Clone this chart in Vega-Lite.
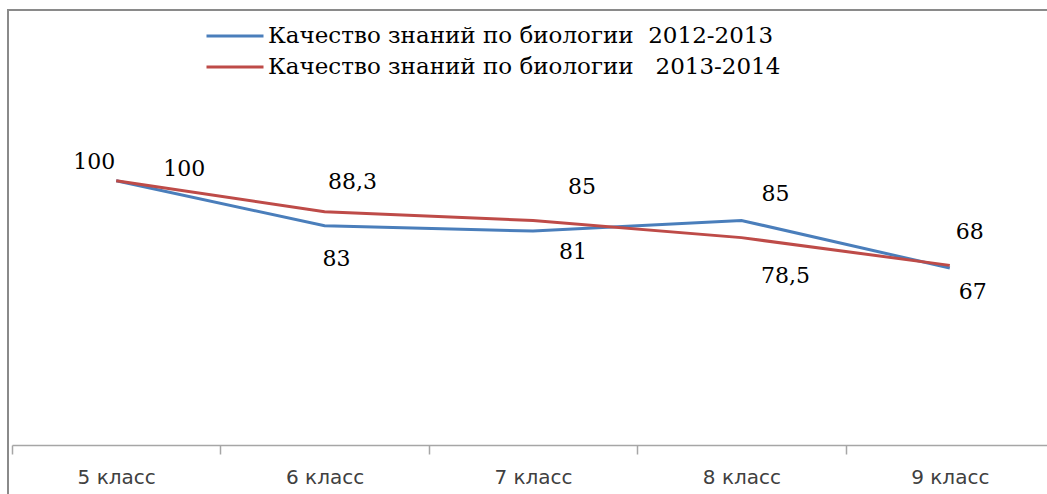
{
  "$schema": "https://vega.github.io/schema/vega-lite/v6.json",
  "autosize": {"type": "none"},
  "padding": {"left": 8, "top": 10, "right": -6, "bottom": -6},
  "width": 1045,
  "height": 490,
  "background": "white",
  "config": {
    "locale": {"number": {"decimal": ",", "thousands": " ", "grouping": [3], "currency": ["", ""]}},
    "view": {"stroke": "#8a8a8a", "strokeWidth": 2}
  },
  "data": {
    "values": [
      {"cls": "5 класс", "series": "Качество знаний по биологии\u00a0\u00a02012-2013", "year": "2012-2013", "value": 100},
      {"cls": "6 класс", "series": "Качество знаний по биологии\u00a0\u00a02012-2013", "year": "2012-2013", "value": 83},
      {"cls": "7 класс", "series": "Качество знаний по биологии\u00a0\u00a02012-2013", "year": "2012-2013", "value": 81},
      {"cls": "8 класс", "series": "Качество знаний по биологии\u00a0\u00a02012-2013", "year": "2012-2013", "value": 85},
      {"cls": "9 класс", "series": "Качество знаний по биологии\u00a0\u00a02012-2013", "year": "2012-2013", "value": 67},
      {"cls": "5 класс", "series": "Качество знаний по биологии\u00a0\u00a0\u00a02013-2014", "year": "2013-2014", "value": 100},
      {"cls": "6 класс", "series": "Качество знаний по биологии\u00a0\u00a0\u00a02013-2014", "year": "2013-2014", "value": 88.3},
      {"cls": "7 класс", "series": "Качество знаний по биологии\u00a0\u00a0\u00a02013-2014", "year": "2013-2014", "value": 85},
      {"cls": "8 класс", "series": "Качество знаний по биологии\u00a0\u00a0\u00a02013-2014", "year": "2013-2014", "value": 78.5},
      {"cls": "9 класс", "series": "Качество знаний по биологии\u00a0\u00a0\u00a02013-2014", "year": "2013-2014", "value": 68}
    ]
  },
  "encoding": {
    "x": {
      "field": "cls", "type": "ordinal", "sort": null,
      "scale": {"type": "band", "range": [4, 1046], "paddingInner": 0, "paddingOuter": 0},
      "axis": {
        "title": null, "offset": -55, "grid": false,
        "domainColor": "#a6a6a6", "domainWidth": 1.5,
        "tickColor": "#a6a6a6", "tickWidth": 1.5, "tickSize": 9, "tickBand": "extent",
        "labelFont": "DejaVu Sans", "labelFontSize": 20, "labelColor": "#404040",
        "labelPadding": 23, "labelBaseline": "middle", "labelAngle": 0
      }
    },
    "y": {
      "field": "value", "type": "quantitative",
      "scale": {"domain": [0, 120], "range": [435, 118], "nice": false, "zero": true},
      "axis": null
    }
  },
  "layer": [
    {
      "mark": {"type": "line", "strokeWidth": 3},
      "encoding": {
        "color": {
          "field": "series", "type": "nominal",
          "scale": {
            "domain": ["Качество знаний по биологии\u00a0\u00a02012-2013", "Качество знаний по биологии\u00a0\u00a0\u00a02013-2014"],
            "range": ["#4a7ebb", "#be4b48"]
          },
          "legend": {
            "title": null, "orient": "none", "legendX": 197, "legendY": 14,
            "direction": "vertical",
            "symbolType": "stroke", "symbolSize": 3249, "symbolStrokeWidth": 3,
            "clipHeight": 24,
            "labelFont": "DejaVu Serif", "labelFontSize": 23, "labelColor": "#000000",
            "labelLimit": 0, "labelOffset": 3, "rowPadding": 7
          }
        }
      }
    },
    {
      "transform": [{"filter": "datum.year == '2012-2013' && datum.cls == '5 класс'"}],
      "mark": {"type": "text", "font": "DejaVu Serif", "fontSize": 22, "color": "#000000", "align": "center", "baseline": "middle", "dx": -22, "dy": -19},
      "encoding": {"text": {"field": "value", "type": "quantitative", "format": ".1~f"}}
    },
    {
      "transform": [{"filter": "datum.year == '2013-2014' && datum.cls == '5 класс'"}],
      "mark": {"type": "text", "font": "DejaVu Serif", "fontSize": 22, "color": "#000000", "align": "center", "baseline": "middle", "dx": 68, "dy": -12},
      "encoding": {"text": {"field": "value", "type": "quantitative", "format": ".1~f"}}
    },
    {
      "transform": [{"filter": "datum.year == '2013-2014' && datum.cls == '6 класс'"}],
      "mark": {"type": "text", "font": "DejaVu Serif", "fontSize": 22, "color": "#000000", "align": "center", "baseline": "middle", "dx": 28, "dy": -30},
      "encoding": {"text": {"field": "value", "type": "quantitative", "format": ".1~f"}}
    },
    {
      "transform": [{"filter": "datum.year == '2012-2013' && datum.cls == '6 класс'"}],
      "mark": {"type": "text", "font": "DejaVu Serif", "fontSize": 22, "color": "#000000", "align": "center", "baseline": "middle", "dx": 12, "dy": 33},
      "encoding": {"text": {"field": "value", "type": "quantitative", "format": ".1~f"}}
    },
    {
      "transform": [{"filter": "datum.year == '2013-2014' && datum.cls == '7 класс'"}],
      "mark": {"type": "text", "font": "DejaVu Serif", "fontSize": 22, "color": "#000000", "align": "center", "baseline": "middle", "dx": 49, "dy": -33},
      "encoding": {"text": {"field": "value", "type": "quantitative", "format": ".1~f"}}
    },
    {
      "transform": [{"filter": "datum.year == '2012-2013' && datum.cls == '7 класс'"}],
      "mark": {"type": "text", "font": "DejaVu Serif", "fontSize": 22, "color": "#000000", "align": "center", "baseline": "middle", "dx": 40, "dy": 21},
      "encoding": {"text": {"field": "value", "type": "quantitative", "format": ".1~f"}}
    },
    {
      "transform": [{"filter": "datum.year == '2012-2013' && datum.cls == '8 класс'"}],
      "mark": {"type": "text", "font": "DejaVu Serif", "fontSize": 22, "color": "#000000", "align": "center", "baseline": "middle", "dx": 34, "dy": -26},
      "encoding": {"text": {"field": "value", "type": "quantitative", "format": ".1~f"}}
    },
    {
      "transform": [{"filter": "datum.year == '2013-2014' && datum.cls == '8 класс'"}],
      "mark": {"type": "text", "font": "DejaVu Serif", "fontSize": 22, "color": "#000000", "align": "center", "baseline": "middle", "dx": 44, "dy": 38},
      "encoding": {"text": {"field": "value", "type": "quantitative", "format": ".1~f"}}
    },
    {
      "transform": [{"filter": "datum.year == '2013-2014' && datum.cls == '9 класс'"}],
      "mark": {"type": "text", "font": "DejaVu Serif", "fontSize": 22, "color": "#000000", "align": "center", "baseline": "middle", "dx": 20, "dy": -33},
      "encoding": {"text": {"field": "value", "type": "quantitative", "format": ".1~f"}}
    },
    {
      "transform": [{"filter": "datum.year == '2012-2013' && datum.cls == '9 класс'"}],
      "mark": {"type": "text", "font": "DejaVu Serif", "fontSize": 22, "color": "#000000", "align": "center", "baseline": "middle", "dx": 23, "dy": 24},
      "encoding": {"text": {"field": "value", "type": "quantitative", "format": ".1~f"}}
    }
  ]
}
